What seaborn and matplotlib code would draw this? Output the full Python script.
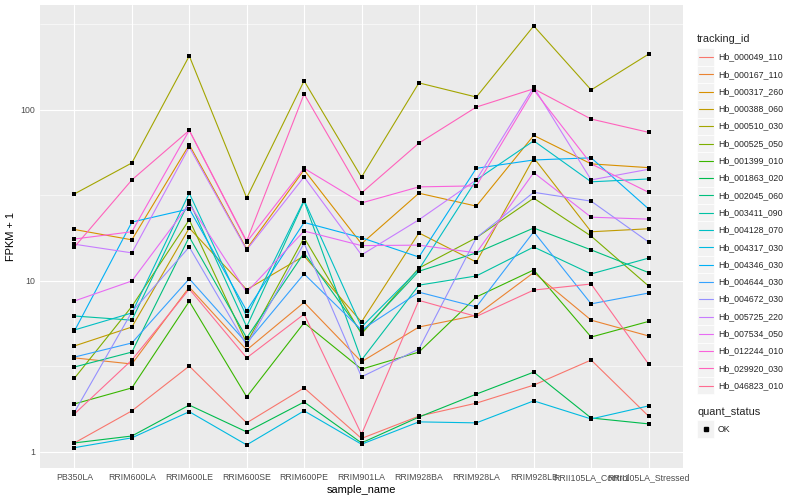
import matplotlib
matplotlib.use('Agg')
import matplotlib.pyplot as plt
from matplotlib.ticker import FixedLocator, NullFormatter
from matplotlib.patches import Rectangle
from matplotlib.lines import Line2D
import seaborn as sns
import pandas as pd

# sample order on the x axis
samples = ['PB350LA', 'RRIM600LA', 'RRIM600LE', 'RRIM600SE', 'RRIM600PE', 'RRIM901LA',
           'RRIM928BA', 'RRIM928LA', 'RRIM928LB', 'RRII105LA_Control', 'RRII105LA_Stressed']

# FPKM + 1 per gene (log scale)
Hb_000049_110 = [1.13, 1.74, 3.18, 1.48, 2.37, 1.2, 1.62, 1.93, 2.46, 3.45, 1.62]
Hb_000167_110 = [3.55, 3.27, 9.2, 3.95, 7.5, 3.37, 5.38, 6.3, 11.2, 5.9, 4.77]
Hb_000317_260 = [20, 17.4, 62.6, 15.4, 44.6, 16.5, 32.6, 27.4, 71, 48.4, 46]
Hb_000388_060 = [4.17, 5.38, 20.4, 8.9, 14, 5.76, 19.1, 12.9, 52.5, 19.4, 20.2]
Hb_000510_030 = [32.3, 49, 207, 30.6, 148, 40.5, 144, 119, 310, 131, 212]
Hb_000525_050 = [2.7, 7.1, 22.8, 4.34, 17.9, 4.9, 11.9, 17.9, 30.5, 18.3, 9.35]
Hb_001399_010 = [1.91, 2.37, 7.6, 2.1, 5.7, 3.05, 3.84, 8.06, 11.6, 4.7, 5.8]
Hb_001863_020 = [1.13, 1.24, 1.88, 1.31, 1.96, 1.13, 1.6, 2.18, 2.93, 1.58, 1.46]
Hb_002045_060 = [3.14, 3.84, 18.1, 4.65, 14.6, 5.0, 11.4, 14.6, 20.4, 15.2, 11.2]
Hb_003411_090 = [6.24, 5.9, 29.3, 5.4, 29.3, 3.45, 9.45, 10.7, 15.8, 11, 13.6]
Hb_004128_070 = [5.17, 6.5, 32.6, 6.2, 29.7, 5.38, 11.7, 39, 66, 38, 39.5]
Hb_004317_030 = [1.06, 1.21, 1.72, 1.1, 1.74, 1.11, 1.5, 1.48, 1.99, 1.56, 1.86]
Hb_004346_030 = [5.1, 22.1, 26.4, 6.7, 22, 17.9, 13.8, 45.6, 51, 52.5, 26.4]
Hb_004644_030 = [3.59, 4.34, 10.3, 4.34, 11, 5.17, 8.6, 7.05, 19.4, 7.35, 8.5]
Hb_004672_030 = [1.71, 6.59, 15.8, 4.2, 16.6, 2.75, 4.0, 17.9, 33, 29.3, 16.9]
Hb_005725_220 = [16.4, 14.6, 60.7, 15.2, 40.6, 14.2, 22.8, 39, 136, 39, 45]
Hb_007534_050 = [7.64, 10, 28.2, 8.6, 19.6, 16.1, 16.2, 14.6, 43, 23.6, 23]
Hb_012244_010 = [17.6, 19.4, 76, 16.9, 45.6, 28.6, 35.5, 36, 131, 48.4, 33]
Hb_029920_030 = [15.8, 39, 76, 17.1, 124, 32.7, 64, 104, 133, 88.5, 74]
Hb_046823_010 = [1.67, 3.45, 8.97, 3.55, 6.4, 1.27, 7.7, 6.2, 8.85, 9.6, 3.27]

tracking_ids = ['Hb_000049_110', 'Hb_000167_110', 'Hb_000317_260', 'Hb_000388_060', 'Hb_000510_030',
                'Hb_000525_050', 'Hb_001399_010', 'Hb_001863_020', 'Hb_002045_060', 'Hb_003411_090',
                'Hb_004128_070', 'Hb_004317_030', 'Hb_004346_030', 'Hb_004644_030', 'Hb_004672_030',
                'Hb_005725_220', 'Hb_007534_050', 'Hb_012244_010', 'Hb_029920_030', 'Hb_046823_010']
series = [Hb_000049_110, Hb_000167_110, Hb_000317_260, Hb_000388_060, Hb_000510_030,
          Hb_000525_050, Hb_001399_010, Hb_001863_020, Hb_002045_060, Hb_003411_090,
          Hb_004128_070, Hb_004317_030, Hb_004346_030, Hb_004644_030, Hb_004672_030,
          Hb_005725_220, Hb_007534_050, Hb_012244_010, Hb_029920_030, Hb_046823_010]

# ggplot default hue palette for 20 levels
colours = ['#F8766D', '#EA8331', '#D89000', '#C09B00', '#A3A500', '#7CAE00', '#39B600', '#00BB4E',
           '#00BF7D', '#00C1A3', '#00BFC4', '#00BAE0', '#00B0F6', '#35A2FF', '#9590FF', '#C77CFF',
           '#E76BF3', '#FA62DB', '#FF62BC', '#FF6C91']

# long table, x as position of the sample so the order stays as listed
rows = []
for tid, vals in zip(tracking_ids, series):
    for pos, (s, v) in enumerate(zip(samples, vals)):
        rows.append({'tracking_id': tid, 'sample_name': s, 'pos': pos, 'fpkm': v, 'quant_status': 'OK'})
df = pd.DataFrame(rows)

sns.set_theme(style='white')
plt.rcParams['font.family'] = ['Liberation Sans', 'DejaVu Sans']

fig = plt.figure(figsize=(8, 5), dpi=100)
ax = fig.add_axes([40/800, 1-468/500, (683-40)/800, (468-5)/500])

sns.lineplot(data=df, x='pos', y='fpkm', hue='tracking_id', hue_order=tracking_ids, palette=colours,
             estimator=None, sort=False, linewidth=0.8, legend=False, ax=ax)
sns.scatterplot(data=df, x='pos', y='fpkm', color='black', marker='s', s=6, linewidth=0,
                legend=False, ax=ax, zorder=3)

ax.set_yscale('log')
ax.set_xlim(-0.6, 10.6)
ax.set_ylim(0.806, 411)
ax.set_xticks(range(len(samples)))
ax.set_xticklabels(samples)
ax.yaxis.set_major_locator(FixedLocator([1, 10, 100]))
ax.set_yticklabels(['1', '10', '100'])
ax.yaxis.set_minor_locator(FixedLocator([10**0.5, 10**1.5, 10**2.5]))  # ggplot minor breaks on log10
ax.yaxis.set_minor_formatter(NullFormatter())

# theme_grey look
ax.set_facecolor('#EBEBEB')
for sp in ax.spines.values():
    sp.set_visible(False)
ax.grid(which='major', color='white', linewidth=0.8)
ax.grid(which='minor', axis='y', color='white', linewidth=0.4)
ax.set_axisbelow(True)
ax.tick_params(which='major', length=2, width=0.5, color='#333333', labelcolor='#4D4D4D',
               labelsize=6.3, pad=1.5)
ax.tick_params(which='minor', length=0)
ax.set_xlabel('sample_name', fontsize=7.9, color='black', labelpad=2)
ax.set_ylabel('FPKM + 1', fontsize=7.9, color='black', labelpad=3)

# legend drawn in pixel coordinates, ggplot style keys
lg = fig.add_axes([0, 0, 1, 1], facecolor='none')
lg.set_xlim(0, 800)
lg.set_ylim(500, 0)
lg.axis('off')
lg.text(697, 39, 'tracking_id', fontsize=7.9, va='center', ha='left')
for i, (tid, c) in enumerate(zip(tracking_ids, colours)):
    yc = 57 + i * 17.3
    lg.add_patch(Rectangle((697, yc - 8.6), 17.3, 17.3, facecolor='#F2F2F2', edgecolor='white', linewidth=0.5))
    lg.add_line(Line2D([698.5, 712.8], [yc, yc], color=c, linewidth=0.8))
    lg.text(718, yc, tid, fontsize=6.3, va='center', ha='left')
lg.text(697, 412, 'quant_status', fontsize=7.9, va='center', ha='left')
lg.add_patch(Rectangle((697, 429 - 8.6), 17.3, 17.3, facecolor='#F2F2F2', edgecolor='white', linewidth=0.5))
lg.plot([705.6], [429], marker='s', color='black', markersize=2.5, linestyle='none')
lg.text(718, 429, 'OK', fontsize=6.3, va='center', ha='left')

plt.savefig('out.png', dpi=100)
